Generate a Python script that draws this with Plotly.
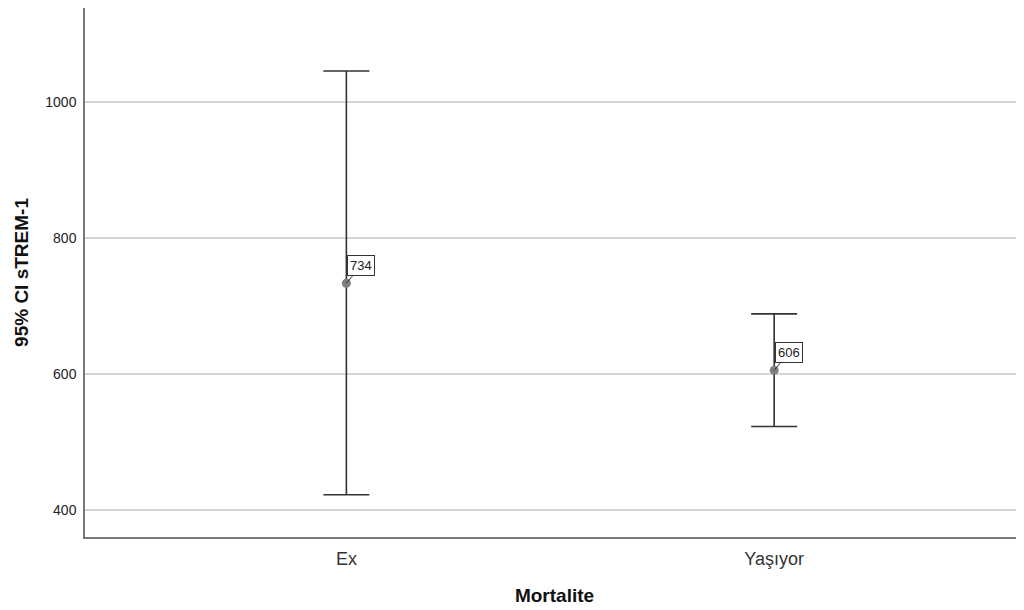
import plotly.graph_objects as go

categories = ["Ex", "Yaşıyor"]
means = [734, 606]
ci_upper = [1046, 689]
ci_lower = [423, 523.5]
y_ticks = [400, 600, 800, 1000]

err_plus = [u - m for u, m in zip(ci_upper, means)]
err_minus = [m - l for m, l in zip(means, ci_lower)]

fig = go.Figure()
fig.add_trace(go.Scatter(
    x=categories, y=means, mode="markers",
    marker=dict(color="#7f7f7f", size=9),
    error_y=dict(type="data", symmetric=False, array=err_plus, arrayminus=err_minus,
                 color="#333333", thickness=1.6, width=23),
    showlegend=False, hoverinfo="skip",
))

for c, m in zip(categories, means):
    fig.add_annotation(
        x=c, y=m, text=str(m), showarrow=True, arrowhead=0, arrowwidth=1,
        arrowcolor="#333333", ax=15, ay=-18,
        bordercolor="#333333", borderwidth=1, borderpad=2, bgcolor="white",
        font=dict(family="Liberation Sans, Arial", size=13, color="#222222"),
    )

fig.update_layout(
    width=1016, height=602,
    margin=dict(l=76.5, r=0, t=0, b=73),
    plot_bgcolor="white", paper_bgcolor="white",
    font=dict(family="Liberation Sans, Arial", color="#222222"),
    xaxis=dict(
        range=[-0.611, 1.584], showgrid=False, showline=True, linecolor="#777777",
        linewidth=1.5, ticks="outside", ticklen=5, tickcolor="rgba(0,0,0,0)",
        tickfont=dict(size=18, color="#333333"),
        title=dict(text="<b>Mortalite</b>", font=dict(size=19, color="#111111"), standoff=20),
    ),
    yaxis=dict(
        range=[361, 1138.6], tickvals=y_ticks, showgrid=True, gridcolor="#d6d6d6",
        gridwidth=1.5, zeroline=False, showline=True, linecolor="#777777", linewidth=1.5,
        ticks="outside", ticklen=4, tickcolor="rgba(0,0,0,0)",
        tickfont=dict(size=14, color="#222222"),
        title=dict(text="<b>95% CI sTREM-1</b>", font=dict(size=19, color="#111111"), standoff=12),
    ),
)

fig.write_html("out.html")
